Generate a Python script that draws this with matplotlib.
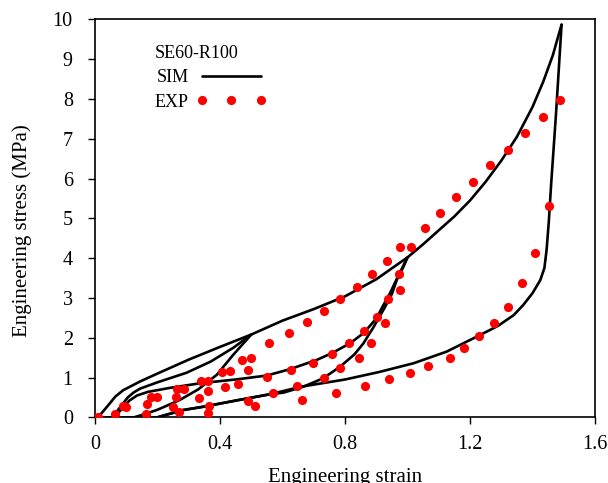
import matplotlib
matplotlib.use("Agg")
import matplotlib.pyplot as plt

plt.rcParams['font.family'] = ['Liberation Serif', 'DejaVu Serif']

# ---- SIM curves ----
load_x = [0.01, 0.04, 0.065, 0.09, 0.144, 0.2, 0.3, 0.4, 0.5, 0.6, 0.7, 0.8, 0.9, 1.0,
          1.05, 1.1, 1.15, 1.2, 1.25, 1.3, 1.35, 1.4, 1.435, 1.465, 1.493]
load_y = [0.0, 0.28, 0.52, 0.68, 0.9, 1.1, 1.45, 1.77, 2.08, 2.43, 2.72, 3.04, 3.47, 4.02,
          4.35, 4.7, 5.05, 5.45, 5.92, 6.45, 7.05, 7.8, 8.45, 9.1, 9.87]

unload1_x = [0.5, 0.44, 0.39, 0.33, 0.27, 0.2, 0.155, 0.125, 0.06]
unload1_y = [2.08, 1.55, 1.07, 0.7, 0.43, 0.19, 0.07, 0.0, 0.0]

reload2_x = [0.058, 0.075, 0.09, 0.105, 0.123, 0.144, 0.2, 0.293, 0.37, 0.443, 0.5]
reload2_y = [0.0, 0.2, 0.35, 0.5, 0.62, 0.72, 0.88, 1.12, 1.4, 1.75, 2.08]

unload2_x = [1.0, 0.97, 0.944, 0.92, 0.901, 0.86, 0.816, 0.76, 0.709, 0.624, 0.55, 0.45,
             0.34, 0.24, 0.17, 0.135, 0.11, 0.085, 0.06, 0.01]
unload2_y = [4.02, 3.55, 3.12, 2.78, 2.49, 2.12, 1.86, 1.62, 1.44, 1.21, 1.05, 0.95,
             0.86, 0.74, 0.64, 0.55, 0.42, 0.2, 0.0, 0.0]

reload3_x = [0.2, 0.28, 0.35, 0.45, 0.56, 0.603, 0.667, 0.73, 0.784, 0.83, 0.859, 0.89,
             0.923, 0.95, 0.966, 0.985, 1.0]
reload3_y = [0.0, 0.18, 0.27, 0.42, 0.58, 0.62, 0.77, 0.98, 1.27, 1.58, 1.86, 2.25,
             2.70, 3.1, 3.46, 3.75, 4.02]

unload3_x = [1.493, 1.475, 1.46, 1.452, 1.445, 1.438, 1.425, 1.40, 1.37, 1.34, 1.29, 1.23,
             1.125, 1.02, 0.91, 0.80, 0.66, 0.56, 0.45, 0.35, 0.28, 0.2, 0.125]
unload3_y = [9.87, 7.6, 5.9, 4.9, 4.2, 3.75, 3.45, 3.12, 2.82, 2.57, 2.3, 2.06,
             1.65, 1.36, 1.14, 0.95, 0.77, 0.58, 0.42, 0.27, 0.18, 0.0, 0.0]

sim_curves = [(load_x, load_y), (unload1_x, unload1_y), (reload2_x, reload2_y),
              (unload2_x, unload2_y), (reload3_x, reload3_y), (unload3_x, unload3_y)]

# ---- EXP points ----
exp_strain = [0.009, 0.064, 0.091, 0.099, 0.163, 0.165, 0.178, 0.199, 0.25, 0.268, 0.258, 0.261,
              0.286, 0.334, 0.338, 0.363, 0.361, 0.365, 0.361, 0.405, 0.432, 0.416, 0.459, 0.469,
              0.498, 0.491, 0.489, 0.512, 0.549, 0.558, 0.568, 0.622, 0.627, 0.647, 0.663,
              0.677, 0.733, 0.785, 0.838, 0.885, 0.934, 0.977, 1.012, 1.056, 1.105, 1.155, 1.209,
              1.264, 1.32, 1.376, 1.433, 1.488,
              1.453, 1.407, 1.365, 1.321, 1.278, 1.23, 1.182, 1.135, 1.067, 1.007, 0.94, 0.865, 0.772,
              0.973, 0.975, 0.938, 0.901, 0.928, 0.861, 0.882, 0.814, 0.757, 0.696, 0.846, 0.785, 0.733]
exp_stress = [0.0, 0.08, 0.28, 0.25, 0.08, 0.33, 0.52, 0.50, 0.26, 0.13, 0.50, 0.70,
              0.70, 0.49, 0.90, 0.90, 0.67, 0.28, 0.12, 1.13, 1.16, 0.75, 0.84, 1.45,
              1.50, 1.19, 0.42, 0.28, 1.01, 1.86, 0.60, 2.11, 1.18, 0.79, 0.44,
              2.39, 2.68, 2.97, 3.27, 3.59, 3.92, 4.27, 4.29, 4.76, 5.14, 5.53, 5.92,
              6.33, 6.73, 7.15, 7.55, 7.97,
              5.32, 4.13, 3.37, 2.78, 2.37, 2.05, 1.75, 1.50, 1.30, 1.12, 0.96, 0.79, 0.62,
              3.60, 3.19, 2.98, 2.52, 2.38, 2.16, 1.86, 1.86, 1.59, 1.37, 1.48, 1.23, 0.98]

x_ticks = [0, 0.4, 0.8, 1.2, 1.6]
x_tick_labels = ["0", "0.4", "0.8", "1.2", "1.6"]
y_ticks = list(range(0, 11))

fig = plt.figure(figsize=(6.08, 4.83), dpi=100)
ax = fig.add_axes([95 / 608, 1 - 417.3 / 483, 500 / 608, (417.3 - 19.5) / 483])

for i, (cx, cy) in enumerate(sim_curves):
    ax.plot(cx, cy, color='black', lw=1.9, solid_capstyle='round', solid_joinstyle='round',
            label='SIM' if i == 0 else None, zorder=2)

ax.plot(exp_strain, exp_stress, linestyle='none', marker='o', ms=6.6, color='#ff0000',
        markeredgewidth=0, label='EXP', zorder=3)

ax.set_xlim(0, 1.6)
ax.set_ylim(0, 10)
ax.set_xticks(x_ticks)
ax.set_xticklabels(x_tick_labels)
ax.set_yticks(y_ticks)
ax.tick_params(direction='out', length=5, width=1, labelsize=14.5, color='black')
ax.tick_params(axis='x', pad=8)
ax.tick_params(axis='y', pad=11)
for s in ax.spines.values():
    s.set_linewidth(1.2)

ax.set_xlabel('Engineering strain', fontsize=15, labelpad=10)
ax.set_ylabel('Engineering stress (MPa)', fontsize=15, labelpad=13)
ax.yaxis.set_label_coords(-0.125, 0.47)

leg = ax.legend(title='SE60-R100', loc='upper left', bbox_to_anchor=(0.12, 0.937),
                frameon=False, markerfirst=False, numpoints=3, handlelength=3.9,
                fontsize=13, title_fontsize=13, alignment='left',
                borderpad=0, borderaxespad=0, labelspacing=0.42, handletextpad=0.4)

fig.savefig('out.png', dpi=100)
